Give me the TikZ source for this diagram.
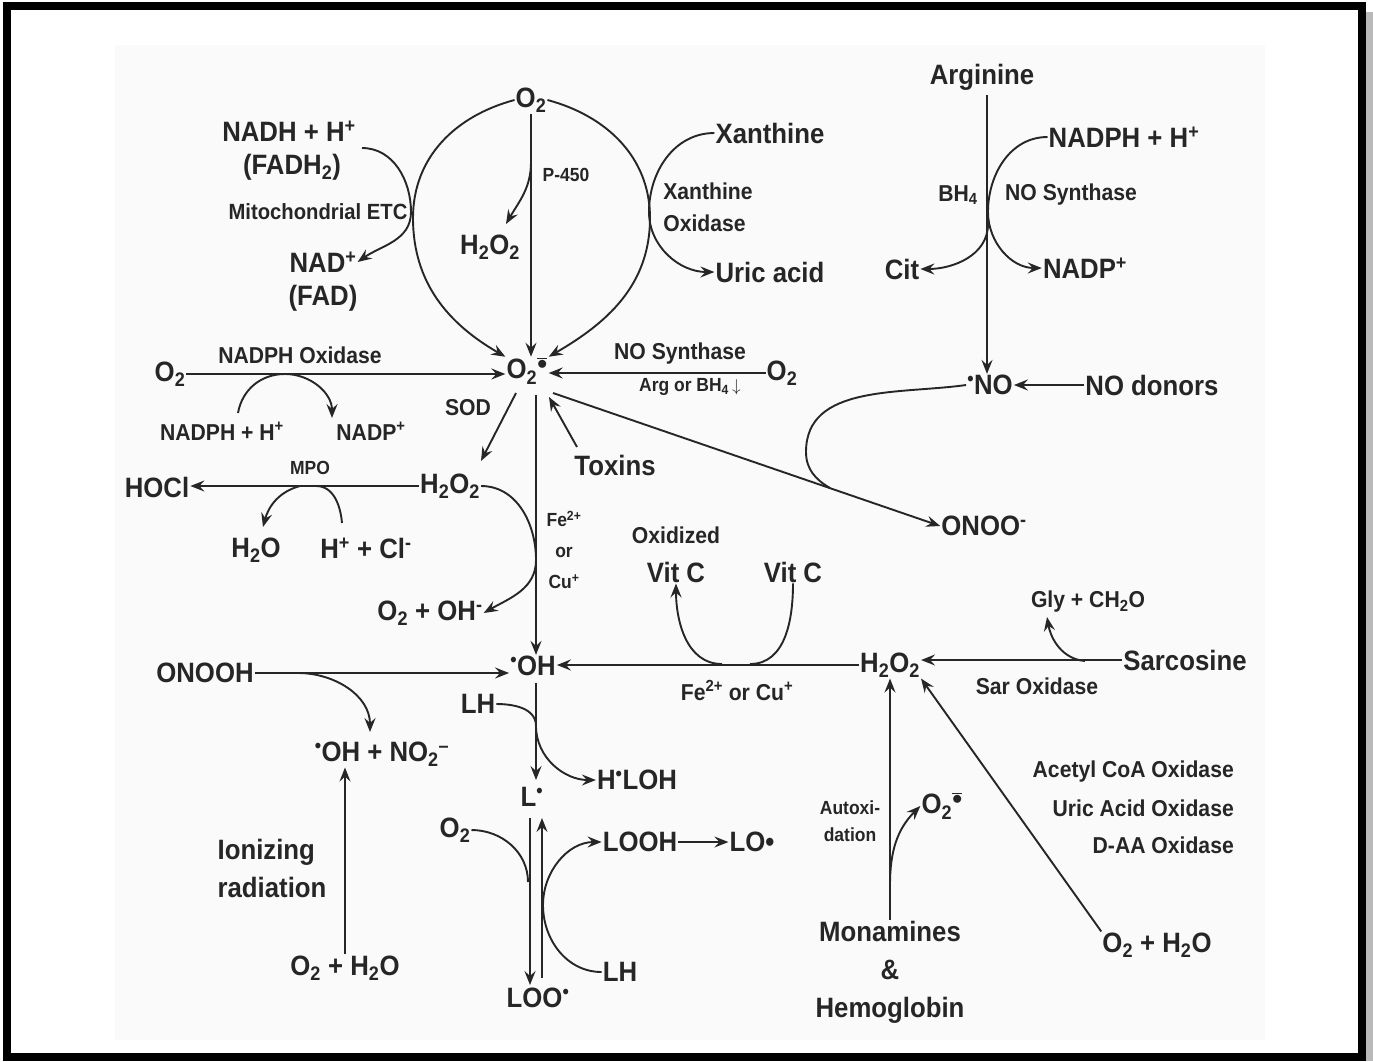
\documentclass[tikz,border=0pt]{standalone}
\usepackage{fontspec}
\setmainfont{Liberation Sans}[UprightFont={* Bold}, FakeStretch=0.92]
\usetikzlibrary{arrows.meta}
\newcommand\mysb[1]{\textsubscript{#1}}
\newcommand\mysp[1]{\textsuperscript{#1}}
\newcommand\rad{\textsuperscript{•}}
\newcommand\supr{O\textsubscript{2}\raisebox{0.35em}{$\scriptstyle\overline{\bullet}$}}
\begin{document}
\begin{tikzpicture}[x=1pt,y=-1pt,
  every node/.style={inner sep=1pt, text=black!85},
  big/.style={font=\fontsize{28}{38}\selectfont},
  mid/.style={font=\fontsize{23}{32}\selectfont},
  sml/.style={font=\fontsize{19}{31}\selectfont},
  ln/.style={line width=1.9pt, draw=black!85},
  ar/.style={ln, -{Stealth[length=14pt,width=11pt,inset=5pt]}},
]
\useasboundingbox (0,0) rectangle (1373,1061);
\fill[gray!55] (1364,12) rectangle (1373,1061);
\fill[black!2] (115,45) rectangle (1265,1040);
\draw[line width=8pt] (7,6) rectangle (1362,1057);

% ---- nodes ----
\node[big] (O2a) at (531,100) {O\mysb{2}};
\node[big] (Sup) at (527,371) {\supr};
\node[big] (H2O2a) at (490,247) {H\mysb{2}O\mysb{2}};
\node[sml] (P450) at (566,175) {P-450};
\node[big] (NADH) at (289,131) {NADH + H\mysp{+}};
\node[big] (FADH) at (292,167) {(FADH\mysb{2})};
\node[font=\fontsize{22}{25}\selectfont] (ETC) at (318,212) {Mitochondrial ETC};
\node[big] (NAD) at (323,262) {NAD\mysp{+}};
\node[big] (FAD) at (323,298) {(FAD)};
\node[big] (Xan) at (770,133) {Xanthine};
\node[mid,align=left] (XO) at (708,207) {Xanthine\\Oxidase};
\node[big] (Uric) at (770,272) {Uric acid};
\node[big] (Arg) at (982,77) {Arginine};
\node[big] (NADPHa) at (1124,137) {NADPH + H\mysp{+}};
\node[mid] (BH4) at (958,195) {BH\mysb{4}};
\node[mid] (NOSa) at (1071,195) {NO Synthase};
\node[big] (Cit) at (902,269) {Cit};
\node[big] (NADPa) at (1085,268) {NADP\mysp{+}};
\node[big] (NO) at (990,385) {\rad NO};
\node[big] (NOd) at (1152,385) {NO donors};
\node[big] (O2b) at (170,374) {O\mysb{2}};
\node[mid] (NOX) at (300,355) {NADPH Oxidase};
\node[mid] (NADPHb) at (222,431) {NADPH + H\mysp{+}};
\node[mid] (NADPb) at (371,431) {NADP\mysp{+}};
\node[big] (O2c) at (782,373) {O\mysb{2}};
\node[mid] (NOSb) at (680,354) {NO Synthase};
\node[sml] (ArgBH) at (690,387) {Arg or BH\mysb{4}\,$\downarrow$};
\node[mid] (SOD) at (468,408) {SOD};
\node[big] (Tox) at (615,465) {Toxins};
\node[big] (H2O2b) at (450,486) {H\mysb{2}O\mysb{2}};
\node[big] (HOCl) at (157,487) {HOCl};
\node[sml] (MPO) at (310,468) {MPO};
\node[big] (H2O) at (256,550) {H\mysb{2}O};
\node[big] (HCl) at (366,548) {H\mysp{+} + Cl\mysp{-}};
\node[sml,align=center] (Fe) at (564,550) {Fe\mysp{2+}\\or\\Cu\mysp{+}};
\node[big] (O2OH) at (430,613) {O\mysb{2} + OH\mysp{-}};
\node[mid] (Oxid) at (676,535) {Oxidized};
\node[big] (VitCa) at (676,572) {Vit C};
\node[big] (VitCb) at (793,572) {Vit C};
\node[big] (ONOO) at (984,526) {ONOO\mysp{-}};
\node[mid] (Gly) at (1088,602) {Gly + CH\mysb{2}O};
\node[big] (Sarc) at (1185,660) {Sarcosine};
\node[big] (H2O2c) at (890,665) {H\mysb{2}O\mysb{2}};
\node[mid] (SarOx) at (1037,686) {Sar Oxidase};
\node[mid] (FeCu) at (737,690) {Fe\mysp{2+} or Cu\mysp{+}};
\node[big] (OH) at (533,666) {\rad OH};
\node[big] (ONOOH) at (205,673) {ONOOH};
\node[big] (LHa) at (478,704) {LH};
\node[big] (OHNO) at (382,754) {\rad OH + NO\mysb{2}\mysp{–}};
\node[big] (HLOH) at (637,780) {H\rad LOH};
\node[big] (L) at (532,797) {L\rad};
\node[big] (O2d) at (455,830) {O\mysb{2}};
\node[big] (LOOH) at (640,842) {LOOH};
\node[big] (LO) at (752,842) {LO•};
\node[big,align=left] (Ion) at (272,868) {Ionizing\\radiation};
\node[big] (O2H2Oa) at (345,968) {O\mysb{2} + H\mysb{2}O};
\node[big] (LHb) at (620,972) {LH};
\node[big] (LOO) at (538,998) {LOO\rad};
\node[sml,align=center,font=\fontsize{19}{27}\selectfont] (Autox) at (850,821) {Autoxi-\\dation};
\node[big] (O2e) at (942,806) {\supr};
\node[mid,anchor=east] (Acet) at (1235,772) {Acetyl CoA Oxidase};
\node[mid,anchor=east] (UAO) at (1235,808) {Uric Acid Oxidase};
\node[mid,anchor=east] (DAA) at (1235,845) {D-AA Oxidase};
\node[big,align=center] (Mon) at (890,972) {Monamines\\\&\\Hemoglobin};
\node[big] (O2H2Ob) at (1157,945) {O\mysb{2} + H\mysb{2}O};

% ---- named points ----
\coordinate (cL) at (413,218);
\coordinate (cR) at (650,218);
\coordinate (p1) at (531,162);
\coordinate (p2) at (506,224);
\coordinate (m1) at (362,148);
\coordinate (mT) at (411,212);
\coordinate (xT) at (649,212);
\coordinate (a1) at (987,95);
\coordinate (aT) at (988,212);
\coordinate (aC) at (988,224);
\coordinate (nL) at (806,452);
\coordinate (j1) at (830,488);
\coordinate (d0) at (553,393);
\coordinate (d1) at (549,397);
\coordinate (t0) at (577,447);
\coordinate (n1) at (238,413);
\coordinate (nT) at (285,374);
\coordinate (n2) at (332,418);
\coordinate (s1) at (516,393);
\coordinate (s2) at (481,461);
\coordinate (h1) at (300,486);
\coordinate (h2) at (263,527);
\coordinate (h3) at (342,523);
\coordinate (h4) at (316,486);
\coordinate (fT) at (536,560);
\coordinate (v1) at (536,395);
\coordinate (o1) at (298,673);
\coordinate (o2) at (370,732);
\coordinate (vc1) at (750,664);
\coordinate (vc2) at (722,664);
\coordinate (g1) at (1085,661);
\coordinate (g2) at (1047,617);
\coordinate (lT) at (536,726);
\coordinate (v2) at (536,683);
\coordinate (v3) at (536,780);
\coordinate (dn1) at (530,818);
\coordinate (dn2) at (530,985);
\coordinate (up1) at (542,978);
\coordinate (up2) at (542,818);
\coordinate (oM) at (528,882);
\coordinate (lbT) at (543,905);
\coordinate (au1) at (890,885);

% ---- connectors ----
\draw[ar] (O2a.west) to[out=195,in=90] (cL) to[out=270,in=150] (Sup.north west);
\draw[ar] (O2a.east) to[out=-15,in=90] (cR) to[out=270,in=30] (Sup.north east);
\draw[ar] (O2a.south) -- (O2a.south |- Sup.north);
\draw[ar] (p1) to[out=270,in=60] (p2);
\draw[ar] (m1) to[out=0,in=90] (mT) to[out=270,in=35] (NAD.east);
\draw[ar] (Xan.west) to[out=180,in=90] (xT) to[out=270,in=180] (Uric.west);
\draw[ar] (a1) -- (a1 |- NO.north);
\draw[ar] (NADPHa.west) to[out=180,in=90] (aT) to[out=270,in=180] (NADPa.west);
\draw[ar] (aC) to[out=270,in=0] (Cit.east);
\draw[ar] (NOd.west) -- (NO.east);
\draw[ln] (NO.west) to[out=188,in=90] (nL) to[out=270,in=150] (j1);
\draw[ar] (d0) -- (ONOO.west);
\draw[ar] (t0) -- (d1);
\draw[ar] (O2b.east) -- (O2b.east -| Sup.west);
\draw[ar] (n1) to[out=80,in=180] (nT) to[out=0,in=90] (n2);
\draw[ar] (O2c.west) -- (O2c.west -| Sup.east);
\draw[ar] (s1) -- (s2);
\draw[ar] (H2O2b.west) -- (H2O2b.west -| HOCl.east);
\draw[ar] (h1) to[out=195,in=75] (h2);
\draw[ln] (h3) to[out=95,in=0] (h4);
\draw[ar] (H2O2b.east) to[out=0,in=90] (fT) to[out=270,in=30] (O2OH.east);
\draw[ar] (v1) -- (v1 |- OH.north);
\draw[ar] (ONOOH.east) -- (ONOOH.east -| OH.west);
\draw[ar] (o1) to[out=0,in=90] (o2);
\draw[ar] (O2H2Oa.north) -- (O2H2Oa.north |- OHNO.south);
\draw[ar] (H2O2c.west) -- (H2O2c.west -| OH.east);
\draw[ln] (VitCb.south) to[out=270,in=0] (vc1);
\draw[ar] (vc2) to[out=180,in=270] (VitCa.south);
\draw[ar] (Sarc.west) -- (Sarc.west -| H2O2c.east);
\draw[ar] (g1) to[out=175,in=-80] (g2);
\draw[ar] (LHa.east) to[out=0,in=90] (lT) to[out=270,in=180] (HLOH.west);
\draw[ar] (v2) -- (v3);
\draw[ar] (dn1) -- (dn2);
\draw[ar] (up1) -- (up2);
\draw[ln] (O2d.east) to[out=0,in=90] (oM);
\draw[ar] (LHb.west) to[out=180,in=270] (lbT) to[out=90,in=180] (LOOH.west);
\draw[ar] (LOOH.east) -- (LO.west);
\draw[ar] (Mon.north) -- (Mon.north |- H2O2c.south);
\draw[ar] (au1) to[out=90,in=225] (O2e.west);
\draw[ar] (O2H2Ob.north west) -- (H2O2c.south east);
\end{tikzpicture}
\end{document}
